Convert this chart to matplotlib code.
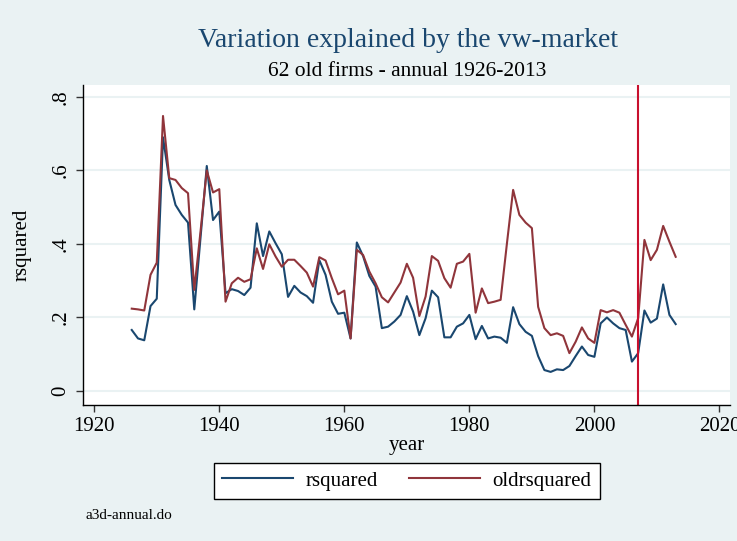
import matplotlib
matplotlib.use("Agg")
import matplotlib.pyplot as plt

# data
years = list(range(1926, 2014))

rsquared = [
    0.166, 0.143, 0.138, 0.231, 0.251, 0.690, 0.574, 0.506, 0.479, 0.458,
    0.222, 0.417, 0.612, 0.465, 0.488, 0.266, 0.277, 0.272, 0.261, 0.281,
    0.456, 0.367, 0.434, 0.402, 0.372, 0.256, 0.286, 0.268, 0.258, 0.240,
    0.356, 0.316, 0.243, 0.210, 0.213, 0.143, 0.404, 0.367, 0.313, 0.284,
    0.171, 0.175, 0.189, 0.207, 0.258, 0.216, 0.152, 0.198, 0.273, 0.255,
    0.146, 0.146, 0.175, 0.184, 0.207, 0.141, 0.177, 0.143, 0.148, 0.145,
    0.131, 0.228, 0.182, 0.161, 0.150, 0.095, 0.057, 0.052, 0.059, 0.057,
    0.068, 0.095, 0.121, 0.098, 0.093, 0.184, 0.200, 0.184, 0.171, 0.166,
    0.080, 0.103, 0.219, 0.186, 0.197, 0.290, 0.207, 0.182,
]

oldrsquared = [
    0.224, 0.222, 0.219, 0.316, 0.349, 0.748, 0.579, 0.574, 0.552, 0.538,
    0.275, 0.434, 0.600, 0.540, 0.549, 0.243, 0.293, 0.308, 0.297, 0.304,
    0.388, 0.332, 0.399, 0.366, 0.338, 0.357, 0.357, 0.340, 0.322, 0.284,
    0.364, 0.355, 0.307, 0.263, 0.273, 0.143, 0.384, 0.370, 0.325, 0.293,
    0.255, 0.241, 0.268, 0.295, 0.346, 0.308, 0.204, 0.257, 0.367, 0.354,
    0.307, 0.281, 0.346, 0.352, 0.373, 0.213, 0.279, 0.239, 0.243, 0.248,
    0.400, 0.547, 0.479, 0.458, 0.443, 0.229, 0.171, 0.152, 0.157, 0.150,
    0.103, 0.134, 0.173, 0.143, 0.131, 0.220, 0.214, 0.220, 0.213, 0.180,
    0.148, 0.198, 0.411, 0.356, 0.384, 0.449, 0.406, 0.365,
]

xticks = [1920, 1940, 1960, 1980, 2000, 2020]
yticks = [0, 0.2, 0.4, 0.6, 0.8]
ytick_labels = ["0", ".2", ".4", ".6", ".8"]
break_year = 2007

bg = "#eaf2f3"
navy = "#1a476f"
maroon = "#90353b"

plt.rcParams["font.family"] = ["Liberation Serif", "DejaVu Serif"]

fig = plt.figure(figsize=(7.37, 5.41), dpi=100, facecolor=bg)
ax = fig.add_axes([0.1126, 0.2514, 0.878, 0.592])
ax.set_facecolor("white")

ax.plot(years, rsquared, color=navy, lw=1.5, label="rsquared")
ax.plot(years, oldrsquared, color=maroon, lw=1.5, label="oldrsquared")
ax.axvline(break_year, color="#c8102e", lw=1.5)

ax.set_xlim(1918.2, 2021.7)
ax.set_ylim(-0.038, 0.833)
ax.set_xticks(xticks)
ax.set_yticks(yticks)
ax.set_yticklabels(ytick_labels, rotation=90, va="center")
ax.tick_params(labelsize=15, length=5, width=1, color="#333333", pad=4)

ax.grid(axis="y", color=bg, lw=1.5)
ax.set_axisbelow(True)
for s in ["top", "right"]:
    ax.spines[s].set_visible(False)
for s in ["left", "bottom"]:
    ax.spines[s].set_color("black")
    ax.spines[s].set_linewidth(1)

ax.set_xlabel("year", fontsize=15, labelpad=0)
ax.set_ylabel("rsquared", fontsize=15, labelpad=14)

fig.text(0.553, 0.926, "Variation explained by the vw-market", ha="center",
         va="center", fontsize=20, color=navy)
fig.text(0.553, 0.868, "62 old firms - annual 1926-2013", ha="center",
         va="center", fontsize=15.5, color="black")

leg = fig.legend(loc="center", bbox_to_anchor=(0.5516, 0.111), ncol=2,
                 fontsize=15, frameon=True, fancybox=False, handlelength=3.4,
                 handletextpad=0.6, columnspacing=1.5, borderpad=0.4,
                 framealpha=1)
leg.get_frame().set_edgecolor("black")
leg.get_frame().set_facecolor("white")
leg.get_frame().set_linewidth(1)

fig.text(0.116, 0.048, "a3d-annual.do", fontsize=11, va="center")

fig.savefig("out.png", dpi=100, facecolor=bg)
